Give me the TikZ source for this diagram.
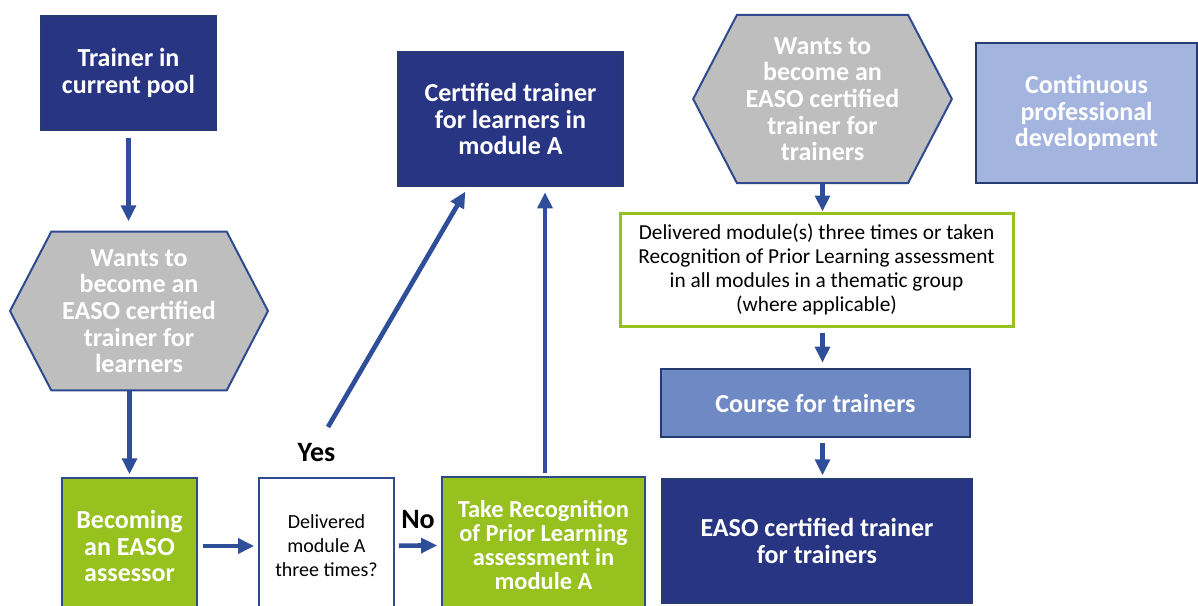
\documentclass[tikz,border=0pt]{standalone}
\usepackage{fontspec}
\setmainfont{Carlito}
\usetikzlibrary{shapes.symbols, arrows.meta, positioning}

\definecolor{easoblue}{RGB}{40,53,131}
\definecolor{lineblue}{RGB}{47,74,143}
\definecolor{arrowblue}{RGB}{47,78,154}
\definecolor{hexgray}{RGB}{190,190,190}
\definecolor{easogreen}{RGB}{150,193,31}
\definecolor{paleblue}{RGB}{163,180,222}
\definecolor{midblue}{RGB}{111,137,196}

\begin{document}
\begin{tikzpicture}[
    x=0.75pt, y=-0.75pt,
    every node/.style={font=\fontsize{19.5}{20}\selectfont\bfseries},
    darkbox/.style={draw=lineblue!80!black, fill=easoblue, line width=1.5pt, text=white, align=center, inner sep=2pt},
    hexbox/.style={signal, signal to=west and east, signal pointer angle=125, draw=lineblue, fill=hexgray, line width=1.5pt, text=white, align=center, inner sep=1pt},
    greenbox/.style={draw=lineblue, fill=easogreen, line width=1.5pt, text=white, align=center, inner sep=2pt},
    askbox/.style={draw=lineblue, fill=white, line width=1.5pt, text=black, align=center, font=\fontsize{15}{18}\selectfont},
    notebox/.style={draw=easogreen, fill=white, line width=2.25pt, text=black, align=center, font=\fontsize{16}{18}\selectfont},
    arrow/.style={-{Triangle[length=12pt, width=11pt]}, line width=3.5pt, draw=arrowblue},
    answer/.style={text=black, font=\fontsize{21}{22}\selectfont\bfseries}
]
    \clip (0,0) rectangle (1198,606);

    % Path to trainer for learners
    \node (pool) [darkbox, minimum width=131pt, minimum height=85.5pt] at (128.5, 73) {Trainer in\\current pool};
    \node (learnhex) [hexbox, minimum width=193.5pt, minimum height=119pt] at (139, 311) {Wants to\\become an\\EASO certified\\trainer for\\learners};
    \node (assessor) [greenbox, minimum width=101pt, minimum height=102pt] at (129.5, 546) {Becoming\\an EASO\\assessor};
    \node (delivered) [askbox, minimum width=101pt, minimum height=102pt] at (326.5, 546) {Delivered\\module A\\three times?};
    \node (rpl) [greenbox, font=\fontsize{18.3}{18}\selectfont\bfseries, minimum width=152pt, minimum height=102pt] at (543.5, 545) {Take Recognition\\of Prior Learning\\assessment in\\module A};
    \node (certlearn) [darkbox, minimum width=168.75pt, minimum height=100.5pt] at (510.5, 119) {Certified trainer\\for learners in\\module A};

    % Path to trainer for trainers
    \node (trainhex) [hexbox, minimum width=194pt, minimum height=126pt] at (822.5, 99) {Wants to\\become an\\EASO certified\\trainer for\\trainers};
    \node (cpd) [darkbox, fill=paleblue, minimum width=165.75pt, minimum height=105pt] at (1086.5, 113) {Continuous\\professional\\development};
    \node (criteria) [notebox, minimum width=294.75pt, minimum height=84.75pt] at (816.5, 269.5) {Delivered module(s) three times or taken\\Recognition of Prior Learning assessment\\in all modules in a thematic group\\(where applicable)};
    \node (course) [darkbox, fill=midblue, minimum width=231.75pt, minimum height=51pt] at (815.5, 403) {Course for trainers};
    \node (easott) [darkbox, minimum width=232.5pt, minimum height=93pt] at (817, 541) {EASO certified trainer\\for trainers};

    % Answers
    \node (yes) [answer] at (316.5, 453) {Yes};
    \node (no) [answer] at (418, 520) {No};
    \coordinate (yesstart) at (328, 427);

    % Arrows on the left
    \draw [arrow, shorten <=5pt, shorten >=7pt] (pool.south) -- (pool.south |- learnhex.north);
    \draw [arrow, shorten >=2pt] (assessor.north |- learnhex.south) -- (assessor.north);
    \draw [arrow, shorten <=4pt, shorten >=3pt] (assessor) -- (delivered);
    \draw [arrow, shorten <=3pt, shorten >=3pt] (delivered) -- (rpl);
    \draw [arrow, shorten >=4pt] (yesstart) -- (certlearn.south -| 468, 0);
    \draw [arrow, shorten <=2pt, shorten >=4pt] (rpl.north -| 545, 0) -- (certlearn.south -| 545, 0);

    % Arrows on the right
    \draw [arrow] (trainhex.south) -- (trainhex.south |- criteria.north);
    \draw [arrow, shorten <=4pt, shorten >=4pt] (criteria.south -| trainhex.south) -- (course.north -| trainhex.south);
    \draw [arrow, shorten <=4pt, shorten >=2pt] (course.south -| trainhex.south) -- (easott.north -| trainhex.south);

\end{tikzpicture}
\end{document}
